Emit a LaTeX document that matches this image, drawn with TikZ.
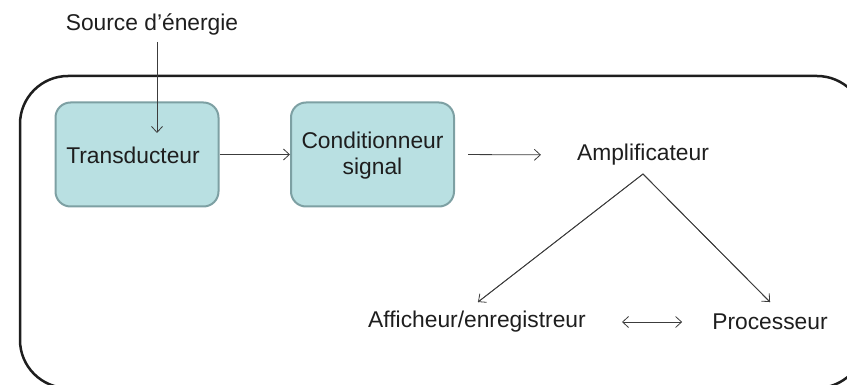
\documentclass[tikz,border=0pt]{standalone}
\usepackage{fontspec}
\setmainfont{Liberation Sans}
\usetikzlibrary{arrows.meta}
\definecolor{boxfill}{RGB}{185,224,226}
\definecolor{boxline}{RGB}{125,160,163}
\definecolor{txt}{RGB}{30,30,30}
\definecolor{arr}{RGB}{60,60,60}
\begin{document}
\begin{tikzpicture}[x=1pt,y=-1pt,
  lbl/.style={font=\fontsize{22.8}{26}\selectfont, text=txt, inner sep=0pt, align=center},
  blk/.style={draw=boxline, line width=2pt, fill=boxfill, rounded corners=15pt, minimum width=163pt, minimum height=104pt, inner sep=0pt},
  conn/.style={draw=arr, line width=0.8pt, -{Straight Barb[length=6pt,width=11pt,line width=0.8pt]}},
  conn2/.style={draw=arr, line width=0.8pt, {Straight Barb[length=6pt,width=11pt,line width=0.8pt]}-{Straight Barb[length=6pt,width=11pt,line width=0.8pt]}}]
\useasboundingbox (0,0) rectangle (847,385);
\begin{scope}
\clip (0,0) rectangle (847,385);
\draw[draw=txt, line width=2.5pt, rounded corners=48pt] (20,76) rectangle (865,388);
\end{scope}
\node[blk] (tr) at (137,154.5) {};
\node[lbl] (trt) at (133,155) {Transducteur};
\node[blk] (co) at (372.5,154.5) {};
\node[lbl] (cot) at (372.5,156) {Conditionneur\\signal};
\node[lbl] (src) at (152,24) {Source d’énergie};
\node[lbl] (amp) at (643,155) {Amplificateur};
\node[lbl] (aff) at (477,322) {Afficheur/enregistreur};
\node[lbl] (proc) at (770,322) {Processeur};
\coordinate (tin) at (157,133);
\coordinate (apex) at (643,174);
\coordinate (affin) at (478,302);
\coordinate (procin) at (770,302);
\draw[conn] (src.south -| tin) ++(0,7) -- (tin);
\draw[conn] (tr.east) -- (co.west);
\draw[conn, shorten <=13pt, shorten >=36pt] (co.east) -- (amp.west);
\draw[draw=arr, line width=0.8pt] (affin) -- (apex) -- (procin);
\draw[conn] (apex) -- (affin);
\draw[conn] (apex) -- (procin);
\draw[conn2, shorten <=36pt, shorten >=30pt] (aff.east) -- (proc.west);
\end{tikzpicture}
\end{document}
